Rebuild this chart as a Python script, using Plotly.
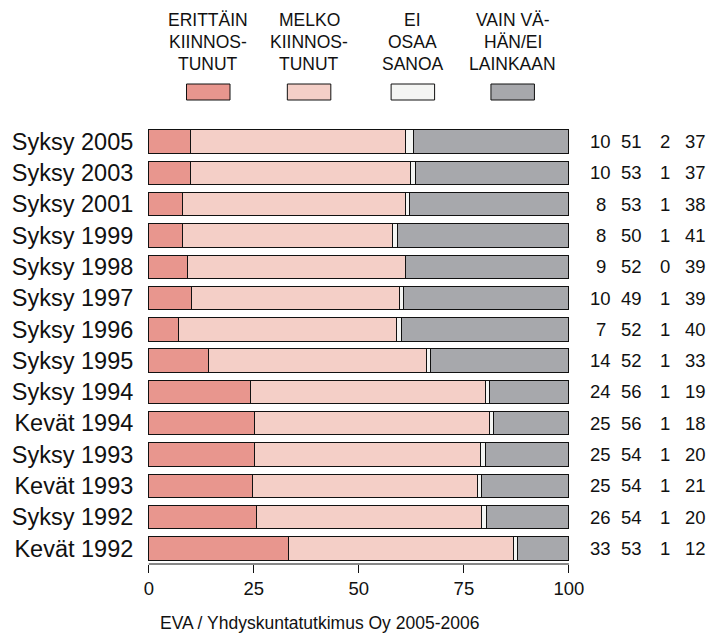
import plotly.graph_objects as go

categories = ["Syksy 2005", "Syksy 2003", "Syksy 2001", "Syksy 1999", "Syksy 1998",
              "Syksy 1997", "Syksy 1996", "Syksy 1995", "Syksy 1994", "Kevät 1994",
              "Syksy 1993", "Kevät 1993", "Syksy 1992", "Kevät 1992"]

# bar lengths (unrounded)
erittain = [10.0, 10.0, 8.1, 8.1, 9.1, 10.2, 7.1, 14.1, 24.1, 25.1, 25.1, 24.8, 25.7, 33.3]
melko = [51.1, 52.4, 53.0, 49.9, 52.0, 49.5, 51.9, 51.9, 56.0, 55.9, 53.9, 53.4, 53.5, 53.6]
ei_osaa = [1.9, 1.0, 0.9, 1.1, 0.0, 0.9, 1.1, 1.1, 1.0, 1.0, 1.1, 1.0, 1.1, 0.9]
vain = [37.0, 36.6, 38.0, 40.9, 38.9, 39.4, 39.9, 32.9, 18.9, 18.0, 19.9, 20.8, 19.7, 12.2]

# printed values on the right
lbl_erittain = [10, 10, 8, 8, 9, 10, 7, 14, 24, 25, 25, 25, 26, 33]
lbl_melko = [51, 53, 53, 50, 52, 49, 52, 52, 56, 56, 54, 54, 54, 53]
lbl_ei = [2, 1, 1, 1, 0, 1, 1, 1, 1, 1, 1, 1, 1, 1]
lbl_vain = [37, 37, 38, 41, 39, 39, 40, 33, 19, 18, 20, 21, 20, 12]

legend_labels = [["ERITTÄIN", "KIINNOS-", "TUNUT"],
                 ["MELKO", "KIINNOS-", "TUNUT"],
                 ["EI", "OSAA", "SANOA"],
                 ["VAIN VÄ-", "HÄN/EI", "LAINKAAN"]]
x_ticks = [0, 25, 50, 75, 100]
source_text = "EVA / Yhdyskuntatutkimus Oy 2005-2006"

colors = ["#E8968E", "#F4CFC7", "#F4F5F3", "#A7A8AC"]
series = [erittain, melko, ei_osaa, vain]
labels = [lbl_erittain, lbl_melko, lbl_ei, lbl_vain]

W, H = 711, 634
ML, MR, MT, MB = 140, 140, 126, 70
PW, PH = W - ML - MR, H - MT - MB

REG = "Liberation Sans, Arial, sans-serif"


def px_x(px):
    return (px - ML) / PW


def px_y(py):
    return (H - MB - py) / PH


fig = go.Figure()
for vals, col in zip(series, colors):
    fig.add_trace(go.Bar(
        y=categories, x=vals, orientation="h",
        marker=dict(color=col, line=dict(color="#111111", width=1)),
        width=0.75, showlegend=False, hoverinfo="skip",
    ))

annotations = []
col_centers = [601, 632, 666, 697]
for lbls, cx in zip(labels, col_centers):
    for cat, v in zip(categories, lbls):
        annotations.append(dict(
            x=px_x(cx), xref="paper", y=cat, yref="y", text=str(v),
            showarrow=False, xanchor="center", yanchor="middle",
            font=dict(family=REG, size=18.5, color="#111111"),
        ))

leg_centers = [204, 306, 411, 512]
line_centers = [20, 41.5, 64]
shapes = []
for lines, cx, col in zip(legend_labels, leg_centers, colors):
    for txt, cy in zip(lines, line_centers):
        annotations.append(dict(
            x=px_x(cx), xref="paper", y=px_y(cy), yref="paper", text=txt,
            showarrow=False, xanchor="center", yanchor="middle",
            font=dict(family=REG, size=17.5, color="#111111"),
        ))
    shapes.append(dict(
        type="rect", xref="paper", yref="paper",
        x0=px_x(cx - 22), x1=px_x(cx + 22), y0=px_y(100), y1=px_y(84),
        fillcolor=col, line=dict(color="#111111", width=1),
    ))

annotations.append(dict(
    x=px_x(317), xref="paper", y=px_y(623), yref="paper", text=source_text,
    showarrow=False, xanchor="center", yanchor="middle",
    font=dict(family=REG, size=17.5, color="#111111"),
))

# x axis line spanning 0..100
shapes.append(dict(type="line", xref="x", yref="paper", x0=x_ticks[0], x1=x_ticks[-1],
                   y0=0, y1=0, line=dict(color="#111111", width=1)))

fig.update_layout(
    width=W, height=H,
    margin=dict(l=ML, r=MR, t=MT, b=MB, pad=0),
    barmode="stack", bargap=0.25,
    plot_bgcolor="white", paper_bgcolor="white",
    annotations=annotations, shapes=shapes,
    xaxis=dict(range=[-0.9, 100.5], tickvals=x_ticks, ticks="outside", ticklen=8,
               tickcolor="#111111", tickwidth=1, showgrid=False, zeroline=False,
               showline=False, tickfont=dict(family=REG, size=18.5, color="#111111")),
    yaxis=dict(categoryorder="array", categoryarray=categories, autorange="reversed",
               ticks="outside", ticklen=6, tickcolor="rgba(0,0,0,0)", showgrid=False,
               zeroline=False, showline=False,
               tickfont=dict(family=REG, size=23.5, color="#111111")),
)

fig.write_html("out.html", config={"displayModeBar": False},
               post_script="document.body.style.margin='0px';")
